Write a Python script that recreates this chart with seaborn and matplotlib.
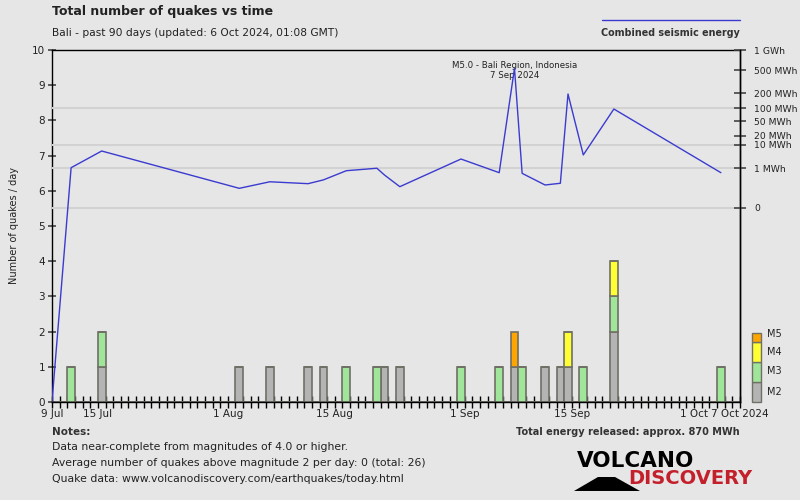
import numpy as np
import pandas as pd
import matplotlib
matplotlib.use("Agg")
import matplotlib.pyplot as plt
import seaborn as sns
from matplotlib.patches import Rectangle, Polygon
from matplotlib.lines import Line2D

# ---------------- data ----------------
quake_days = [2, 6, 24, 28, 33, 35, 38, 42, 43, 45, 53, 58, 60, 61, 64, 66, 67, 69, 73, 87]
m2_counts = [0, 1, 1, 1, 1, 1, 0, 0, 1, 1, 0, 0, 1, 0, 1, 1, 1, 0, 2, 0]
m3_counts = [1, 1, 0, 0, 0, 0, 1, 1, 0, 0, 1, 1, 0, 1, 0, 0, 0, 1, 1, 1]
m4_counts = [0, 0, 0, 0, 0, 0, 0, 0, 0, 0, 0, 0, 0, 0, 0, 0, 1, 0, 1, 0]
m5_counts = [0, 0, 0, 0, 0, 0, 0, 0, 0, 0, 0, 0, 1, 0, 0, 0, 0, 0, 0, 0]
mag_levels = ["M5", "M4", "M3", "M2"]

energy_days = [0, 2.5, 6.5, 24.5, 28.5, 33.5, 35.5, 38.5, 42.5, 43.5, 45.5, 53.5,
               58.5, 60.5, 61.5, 64.5, 66.5, 67.5, 69.5, 73.5, 87.5]
energy_mwh = [-2840, 1.05, 6.0, 0.028, 0.12, 0.082, 0.17, 0.71, 0.98, 0.38, 0.042, 2.8,
              0.54, 540, 0.49, 0.062, 0.089, 195, 4.2, 96, 0.54]

date_tick_days = [0, 6, 23, 37, 54, 68, 84, 90]
date_tick_labels = ["9 Jul", "15 Jul", "1 Aug", "15 Aug", "1 Sep", "15 Sep", "1 Oct", "7 Oct 2024"]
count_ticks = list(range(0, 11))
energy_ticks = [0, 1, 10, 20, 50, 100, 200, 500, 1000]
energy_tick_labels = ["0", "1 MWh", "10 MWh", "20 MWh", "50 MWh", "100 MWh", "200 MWh", "500 MWh", "1 GWh"]
energy_grid = [0, 1, 10, 100]
energy_limits = (-2840, 1000)
n_days = 90

# ---------------- style ----------------
BG = "#e6e6e6"
TXT = "#222222"
BLUE = "#3b3bd0"
mag_colors = {"M2": "#b4b4b4", "M3": "#a0e69a", "M4": "#ffff33", "M5": "#ffa500"}
EDGE = "#707066"

sns.set_theme(style="white")
plt.rcParams["font.family"] = ["DejaVu Sans"]
plt.rcParams["text.color"] = TXT
plt.rcParams["axes.edgecolor"] = "black"

fig = plt.figure(figsize=(8, 5), dpi=100)
fig.patch.set_facecolor(BG)

def fx(px):
    return px / 800.0

def fy(py):
    return 1 - py / 500.0

ax = fig.add_axes([fx(52), fy(402), fx(740) - fx(52), fy(50) - fy(402)])
ax.set_facecolor(BG)

# ---------------- bars ----------------
rows = []
for lvl, counts in (("M2", m2_counts), ("M3", m3_counts), ("M4", m4_counts), ("M5", m5_counts)):
    for d, c in zip(quake_days, counts):
        if c:
            rows.append({"day": d + 0.5, "mag": lvl, "n": c})
df = pd.DataFrame(rows)

sns.histplot(data=df, x="day", weights="n", hue="mag", hue_order=mag_levels,
             multiple="stack", binwidth=1, binrange=(0, n_days), palette=mag_colors,
             alpha=1, edgecolor=EDGE, linewidth=1.2, legend=False, ax=ax)

ax.set_xlim(0, n_days)
ax.set_ylim(0, 10)
ax.set_xlabel("")
ax.set_ylabel("")
ax.set_yticks(count_ticks)
ax.set_yticklabels([str(v) for v in count_ticks], fontsize=7.5, color=TXT)
all_days = list(range(0, n_days + 1))
lab_map = dict(zip(date_tick_days, date_tick_labels))
ax.set_xticks(all_days)
ax.set_xticklabels([lab_map.get(d, "") for d in all_days], fontsize=7.5, color=TXT)
ax.tick_params(axis="x", bottom=True, direction="inout", length=8, width=1, color="black", pad=1)
ax.tick_params(axis="y", left=True, direction="inout", length=6, width=1.2, color="#444444", pad=2)
for s in ax.spines.values():
    s.set_visible(True)
    s.set_color("black")
    s.set_linewidth(1)
ax.grid(False)

# annotation of strongest quake
ax.text(60.5, 9.42, "M5.0 - Bali Region, Indonesia\n7 Sep 2024", ha="center", va="center",
        fontsize=6.2, color=TXT, linespacing=1.1, zorder=5)

# ---------------- energy line ----------------
ax2 = ax.twinx()
fwd = lambda e: np.sign(e) * np.abs(e) ** 0.2
inv = lambda t: np.sign(t) * np.abs(t) ** 5
ax2.set_yscale("function", functions=(fwd, inv))
ax2.set_ylim(*energy_limits)
for v in energy_grid:
    ax2.axhline(v, color="#d2d2d2", lw=1.5, zorder=0)
sns.lineplot(x=energy_days, y=energy_mwh, ax=ax2, color=BLUE, lw=1.0, zorder=3)
ax2.set_yticks(energy_ticks)
ax2.set_yticklabels(energy_tick_labels, fontsize=6.7, color=TXT)
ax2.yaxis.set_minor_locator(matplotlib.ticker.NullLocator())
ax2.tick_params(axis="y", right=True, direction="inout", length=8, width=1.2, color="#444444", pad=6)
ax2.set_ylabel("")
for s in ax2.spines.values():
    s.set_visible(False)
ax2.spines["right"].set_visible(True)
ax2.spines["right"].set_color("black")
ax2.spines["right"].set_linewidth(1)
ax2.grid(False)

# ---------------- texts ----------------
fig.text(fx(52), fy(12), "Total number of quakes vs time", fontsize=9, fontweight="bold",
         va="center", ha="left", color=TXT)
fig.text(fx(52), fy(33), "Bali - past 90 days (updated: 6 Oct 2024, 01:08 GMT)", fontsize=7.7,
         va="center", ha="left", color=TXT)
fig.add_artist(Line2D([fx(602), fx(740)], [fy(20), fy(20)], color=BLUE, lw=1))
fig.text(fx(740), fy(33), "Combined seismic energy", fontsize=6.9, fontweight="bold",
         va="center", ha="right", color="#333333")
fig.text(fx(14), fy(226), "Number of quakes / day", fontsize=7, rotation=90,
         va="center", ha="center", color=TXT)

# magnitude legend
leg_boxes = [("M2", 382.3, 402.3, 392), ("M3", 362.3, 382.3, 371),
             ("M4", 342.3, 362.3, 352), ("M5", 332.7, 342.3, 334)]
for lvl, top, bot, ty in leg_boxes:
    fig.add_artist(Rectangle((fx(752), fy(bot)), fx(8.5), fy(top) - fy(bot),
                             facecolor=mag_colors[lvl], edgecolor=EDGE, lw=1,
                             transform=fig.transFigure))
    fig.text(fx(767), fy(ty), lvl, fontsize=7, va="center", ha="left", color=TXT)

# notes
fig.text(fx(52), fy(432), "Notes:", fontsize=7.5, fontweight="bold", va="center", color="#333333")
notes = ["Data near-complete from magnitudes of 4.0 or higher.",
         "Average number of quakes above magnitude 2 per day: 0 (total: 26)",
         "Quake data: www.volcanodiscovery.com/earthquakes/today.html"]
for i, line in enumerate(notes):
    fig.text(fx(52), fy(447 + 16 * i), line, fontsize=7.8, va="center", color=TXT)
fig.text(fx(740), fy(432), "Total energy released: approx. 870 MWh", fontsize=7.0,
         fontweight="bold", va="center", ha="right", color="#333333")

# logo
fig.text(fx(577), fy(461), "VOLCANO", fontsize=15.5, fontweight="bold", va="center",
         ha="left", color="black")
fig.text(fx(752), fy(478), "DISCOVERY", fontsize=14, fontweight="bold", va="center",
         ha="right", color="#c4202b")
fig.add_artist(Polygon([[fx(574), fy(491)], [fx(598), fy(477)], [fx(615), fy(477)],
                        [fx(640), fy(491)]], closed=True, facecolor="black",
                       edgecolor="none", transform=fig.transFigure))

fig.savefig("out.png", dpi=100, facecolor=BG)
